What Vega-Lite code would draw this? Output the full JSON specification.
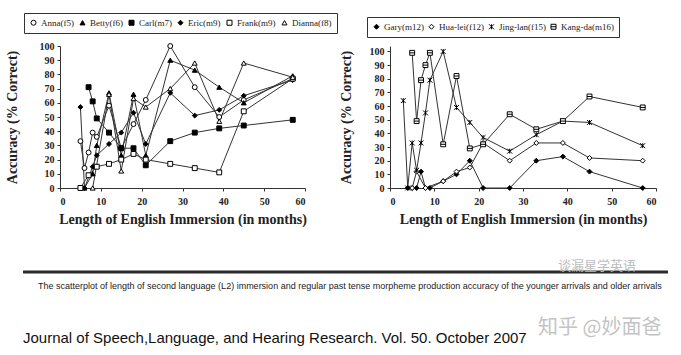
{
  "$schema": "https://vega.github.io/schema/vega-lite/v6.json",
  "background": "white",
  "padding": {"left": 4, "top": 12, "right": 0, "bottom": 0},
  "spacing": 0,
  "config": {
    "view": {"stroke": null},
    "font": "Liberation Serif",
    "axis": {
      "labelFont": "Liberation Serif", "labelFontWeight": "bold", "labelFontSize": 10, "labelColor": "#222",
      "titleFont": "Liberation Serif", "titleFontWeight": "bold", "titleFontSize": 14, "titleColor": "#222",
      "domainColor": "#333", "tickColor": "#333", "grid": false, "tickSize": 3, "labelPadding": 3
    },
    "legend": {
      "labelFont": "Liberation Serif", "labelFontSize": 9, "labelColor": "#222",
      "strokeColor": "#333", "padding": 5, "symbolStrokeWidth": 1,
      "symbolSize": 25, "labelOffset": 3, "fillColor": "white"
    }
  },
  "datasets": {
    "left": [
      {"student": "Anna(f5)", "months": 5, "accuracy": 33},
      {"student": "Anna(f5)", "months": 6, "accuracy": 14},
      {"student": "Anna(f5)", "months": 7, "accuracy": 25},
      {"student": "Anna(f5)", "months": 8, "accuracy": 39},
      {"student": "Anna(f5)", "months": 9, "accuracy": 36},
      {"student": "Anna(f5)", "months": 12, "accuracy": 58},
      {"student": "Anna(f5)", "months": 15, "accuracy": 28},
      {"student": "Anna(f5)", "months": 18, "accuracy": 45},
      {"student": "Anna(f5)", "months": 21, "accuracy": 62},
      {"student": "Anna(f5)", "months": 27, "accuracy": 100},
      {"student": "Anna(f5)", "months": 33, "accuracy": 71},
      {"student": "Anna(f5)", "months": 39, "accuracy": 50},
      {"student": "Anna(f5)", "months": 45, "accuracy": 62},
      {"student": "Anna(f5)", "months": 57, "accuracy": 77},
      {"student": "Betty(f6)", "months": 6, "accuracy": 0},
      {"student": "Betty(f6)", "months": 8, "accuracy": 10},
      {"student": "Betty(f6)", "months": 9, "accuracy": 30},
      {"student": "Betty(f6)", "months": 12, "accuracy": 67},
      {"student": "Betty(f6)", "months": 15, "accuracy": 23},
      {"student": "Betty(f6)", "months": 18, "accuracy": 66},
      {"student": "Betty(f6)", "months": 21, "accuracy": 23},
      {"student": "Betty(f6)", "months": 27, "accuracy": 90},
      {"student": "Betty(f6)", "months": 33, "accuracy": 83},
      {"student": "Betty(f6)", "months": 39, "accuracy": 71},
      {"student": "Betty(f6)", "months": 45, "accuracy": 60},
      {"student": "Betty(f6)", "months": 57, "accuracy": 79},
      {"student": "Carl(m7)", "months": 7, "accuracy": 71},
      {"student": "Carl(m7)", "months": 8, "accuracy": 61},
      {"student": "Carl(m7)", "months": 9, "accuracy": 49},
      {"student": "Carl(m7)", "months": 12, "accuracy": 39},
      {"student": "Carl(m7)", "months": 15, "accuracy": 28},
      {"student": "Carl(m7)", "months": 18, "accuracy": 28},
      {"student": "Carl(m7)", "months": 21, "accuracy": 16},
      {"student": "Carl(m7)", "months": 27, "accuracy": 33},
      {"student": "Carl(m7)", "months": 33, "accuracy": 39},
      {"student": "Carl(m7)", "months": 39, "accuracy": 42},
      {"student": "Carl(m7)", "months": 45, "accuracy": 44},
      {"student": "Carl(m7)", "months": 57, "accuracy": 48},
      {"student": "Eric(m9)", "months": 5, "accuracy": 57},
      {"student": "Eric(m9)", "months": 6, "accuracy": 0},
      {"student": "Eric(m9)", "months": 8, "accuracy": 15},
      {"student": "Eric(m9)", "months": 9, "accuracy": 23},
      {"student": "Eric(m9)", "months": 12, "accuracy": 31},
      {"student": "Eric(m9)", "months": 15, "accuracy": 39},
      {"student": "Eric(m9)", "months": 18, "accuracy": 53},
      {"student": "Eric(m9)", "months": 21, "accuracy": 31},
      {"student": "Eric(m9)", "months": 27, "accuracy": 67},
      {"student": "Eric(m9)", "months": 33, "accuracy": 51},
      {"student": "Eric(m9)", "months": 39, "accuracy": 55},
      {"student": "Eric(m9)", "months": 45, "accuracy": 65},
      {"student": "Eric(m9)", "months": 57, "accuracy": 76},
      {"student": "Frank(m9)", "months": 5, "accuracy": 0},
      {"student": "Frank(m9)", "months": 7, "accuracy": 9},
      {"student": "Frank(m9)", "months": 9, "accuracy": 15},
      {"student": "Frank(m9)", "months": 12, "accuracy": 17},
      {"student": "Frank(m9)", "months": 15, "accuracy": 20},
      {"student": "Frank(m9)", "months": 18, "accuracy": 24},
      {"student": "Frank(m9)", "months": 21, "accuracy": 20},
      {"student": "Frank(m9)", "months": 27, "accuracy": 17},
      {"student": "Frank(m9)", "months": 33, "accuracy": 14},
      {"student": "Frank(m9)", "months": 39, "accuracy": 11},
      {"student": "Frank(m9)", "months": 45, "accuracy": 54},
      {"student": "Frank(m9)", "months": 57, "accuracy": 77},
      {"student": "Dianna(f8)", "months": 8, "accuracy": 0},
      {"student": "Dianna(f8)", "months": 12, "accuracy": 66},
      {"student": "Dianna(f8)", "months": 15, "accuracy": 12},
      {"student": "Dianna(f8)", "months": 18, "accuracy": 63},
      {"student": "Dianna(f8)", "months": 21, "accuracy": 57},
      {"student": "Dianna(f8)", "months": 27, "accuracy": 70},
      {"student": "Dianna(f8)", "months": 33, "accuracy": 88},
      {"student": "Dianna(f8)", "months": 39, "accuracy": 47},
      {"student": "Dianna(f8)", "months": 45, "accuracy": 88},
      {"student": "Dianna(f8)", "months": 57, "accuracy": 78}
    ],
    "right": [
      {"student": "Gary(m12)", "months": 4, "accuracy": 0},
      {"student": "Gary(m12)", "months": 5, "accuracy": 0},
      {"student": "Gary(m12)", "months": 6, "accuracy": 0},
      {"student": "Gary(m12)", "months": 7, "accuracy": 12},
      {"student": "Gary(m12)", "months": 8, "accuracy": 0},
      {"student": "Gary(m12)", "months": 9, "accuracy": 0},
      {"student": "Gary(m12)", "months": 12, "accuracy": 5},
      {"student": "Gary(m12)", "months": 15, "accuracy": 10},
      {"student": "Gary(m12)", "months": 18, "accuracy": 20},
      {"student": "Gary(m12)", "months": 21, "accuracy": 0},
      {"student": "Gary(m12)", "months": 27, "accuracy": 0},
      {"student": "Gary(m12)", "months": 33, "accuracy": 20},
      {"student": "Gary(m12)", "months": 39, "accuracy": 23},
      {"student": "Gary(m12)", "months": 45, "accuracy": 12},
      {"student": "Gary(m12)", "months": 57, "accuracy": 0},
      {"student": "Hua-lei(f12)", "months": 5, "accuracy": 0},
      {"student": "Hua-lei(f12)", "months": 6, "accuracy": 12},
      {"student": "Hua-lei(f12)", "months": 8, "accuracy": 0},
      {"student": "Hua-lei(f12)", "months": 12, "accuracy": 5},
      {"student": "Hua-lei(f12)", "months": 15, "accuracy": 12},
      {"student": "Hua-lei(f12)", "months": 18, "accuracy": 15},
      {"student": "Hua-lei(f12)", "months": 21, "accuracy": 33},
      {"student": "Hua-lei(f12)", "months": 27, "accuracy": 20},
      {"student": "Hua-lei(f12)", "months": 33, "accuracy": 33},
      {"student": "Hua-lei(f12)", "months": 39, "accuracy": 33},
      {"student": "Hua-lei(f12)", "months": 45, "accuracy": 22},
      {"student": "Hua-lei(f12)", "months": 57, "accuracy": 20},
      {"student": "Jing-lan(f15)", "months": 3, "accuracy": 64},
      {"student": "Jing-lan(f15)", "months": 4, "accuracy": 0},
      {"student": "Jing-lan(f15)", "months": 5, "accuracy": 33},
      {"student": "Jing-lan(f15)", "months": 6, "accuracy": 13},
      {"student": "Jing-lan(f15)", "months": 7, "accuracy": 33},
      {"student": "Jing-lan(f15)", "months": 8, "accuracy": 55},
      {"student": "Jing-lan(f15)", "months": 9, "accuracy": 79},
      {"student": "Jing-lan(f15)", "months": 12, "accuracy": 100},
      {"student": "Jing-lan(f15)", "months": 15, "accuracy": 59},
      {"student": "Jing-lan(f15)", "months": 18, "accuracy": 48},
      {"student": "Jing-lan(f15)", "months": 21, "accuracy": 37},
      {"student": "Jing-lan(f15)", "months": 27, "accuracy": 27},
      {"student": "Jing-lan(f15)", "months": 33, "accuracy": 39},
      {"student": "Jing-lan(f15)", "months": 39, "accuracy": 49},
      {"student": "Jing-lan(f15)", "months": 45, "accuracy": 48},
      {"student": "Jing-lan(f15)", "months": 57, "accuracy": 31},
      {"student": "Kang-da(m16)", "months": 5, "accuracy": 99},
      {"student": "Kang-da(m16)", "months": 6, "accuracy": 49},
      {"student": "Kang-da(m16)", "months": 7, "accuracy": 79},
      {"student": "Kang-da(m16)", "months": 8, "accuracy": 90},
      {"student": "Kang-da(m16)", "months": 9, "accuracy": 99},
      {"student": "Kang-da(m16)", "months": 12, "accuracy": 32},
      {"student": "Kang-da(m16)", "months": 15, "accuracy": 82},
      {"student": "Kang-da(m16)", "months": 18, "accuracy": 29},
      {"student": "Kang-da(m16)", "months": 21, "accuracy": 32},
      {"student": "Kang-da(m16)", "months": 27, "accuracy": 54},
      {"student": "Kang-da(m16)", "months": 33, "accuracy": 43},
      {"student": "Kang-da(m16)", "months": 39, "accuracy": 49},
      {"student": "Kang-da(m16)", "months": 45, "accuracy": 67},
      {"student": "Kang-da(m16)", "months": 57, "accuracy": 59}
    ]
  },
  "vconcat": [
    {
      "spacing": 0,
      "resolve": {
        "scale": {"x": "independent", "y": "independent", "shape": "independent", "fill": "independent", "stroke": "independent"},
        "legend": {"shape": "independent", "fill": "independent", "stroke": "independent"}
      },
      "hconcat": [
        {
          "width": 245,
          "height": 142,
          "data": {"name": "left"},
          "encoding": {
            "x": {"field": "months", "type": "quantitative", "scale": {"domain": [0, 60], "nice": false},
                  "axis": {"values": [0, 10, 20, 30, 40, 50, 60], "title": "Length of English Immersion (in months)", "titlePadding": 6, "labelPadding": 5}},
            "y": {"field": "accuracy", "type": "quantitative", "scale": {"domain": [0, 100], "nice": false},
                  "axis": {"values": [0, 10, 20, 30, 40, 50, 60, 70, 80, 90, 100], "title": "Accuracy (% Correct)", "titlePadding": 20}}
          },
          "layer": [
            {"mark": {"type": "line", "color": "#333", "strokeWidth": 1}, "encoding": {"detail": {"field": "student", "type": "nominal"}}},
            {
              "mark": {"type": "point", "filled": true, "strokeWidth": 1, "opacity": 1, "size": 24},
              "encoding": {
                "shape": {"field": "student", "type": "nominal",
                  "scale": {"domain": ["Anna(f5)", "Betty(f6)", "Carl(m7)", "Eric(m9)", "Frank(m9)", "Dianna(f8)"],
                            "range": ["circle", "triangle-up", "square", "diamond", "square", "triangle-up"]},
                  "legend": {"orient": "none", "legendX": -36, "legendY": -33, "direction": "horizontal", "columns": 6, "title": null, "columnPadding": 4}},
                "fill": {"field": "student", "type": "nominal",
                  "scale": {"domain": ["Anna(f5)", "Betty(f6)", "Carl(m7)", "Eric(m9)", "Frank(m9)", "Dianna(f8)"],
                            "range": ["white", "black", "black", "black", "white", "white"]},
                  "legend": {"orient": "none", "legendX": -36, "legendY": -33, "direction": "horizontal", "columns": 6, "title": null, "columnPadding": 4}},
                "stroke": {"field": "student", "type": "nominal",
                  "scale": {"domain": ["Anna(f5)", "Betty(f6)", "Carl(m7)", "Eric(m9)", "Frank(m9)", "Dianna(f8)"],
                            "range": ["black", "black", "black", "black", "black", "black"]},
                  "legend": {"orient": "none", "legendX": -36, "legendY": -33, "direction": "horizontal", "columns": 6, "title": null, "columnPadding": 4}}
              }
            }
          ]
        },
        {
          "width": 266,
          "height": 142,
          "data": {"name": "right"},
          "encoding": {
            "x": {"field": "months", "type": "quantitative", "scale": {"domain": [0, 60], "nice": false},
                  "axis": {"values": [0, 10, 20, 30, 40, 50, 60], "title": "Length of English Immersion (in months)", "titlePadding": 6, "labelPadding": 5}},
            "y": {"field": "accuracy", "type": "quantitative", "scale": {"domain": [0, 104], "nice": false},
                  "axis": {"values": [0, 10, 20, 30, 40, 50, 60, 70, 80, 90, 100], "title": "Accuracy (% Correct)", "titlePadding": 16}}
          },
          "layer": [
            {"mark": {"type": "line", "color": "#333", "strokeWidth": 1}, "encoding": {"detail": {"field": "student", "type": "nominal"}}},
            {
              "mark": {"type": "point", "filled": true, "strokeWidth": 1, "opacity": 1, "size": 24},
              "encoding": {
                "shape": {"field": "student", "type": "nominal",
                  "scale": {"domain": ["Gary(m12)", "Hua-lei(f12)", "Jing-lan(f15)", "Kang-da(m16)"],
                            "range": ["diamond", "diamond", "M-1,-1L1,1M-1,1L1,-1M0,-1L0,1", "M-1,-1H1V1H-1ZM-1,0H1"]},
                  "legend": {"orient": "none", "legendX": -23, "legendY": -29, "direction": "horizontal", "columns": 4, "title": null, "columnPadding": 3}},
                "fill": {"field": "student", "type": "nominal",
                  "scale": {"domain": ["Gary(m12)", "Hua-lei(f12)", "Jing-lan(f15)", "Kang-da(m16)"],
                            "range": ["black", "white", "white", "white"]},
                  "legend": {"orient": "none", "legendX": -23, "legendY": -29, "direction": "horizontal", "columns": 4, "title": null, "columnPadding": 3}},
                "stroke": {"field": "student", "type": "nominal",
                  "scale": {"domain": ["Gary(m12)", "Hua-lei(f12)", "Jing-lan(f15)", "Kang-da(m16)"],
                            "range": ["black", "black", "black", "black"]},
                  "legend": {"orient": "none", "legendX": -23, "legendY": -29, "direction": "horizontal", "columns": 4, "title": null, "columnPadding": 3}}
              }
            }
          ]
        }
      ]
    },
    {
      "width": 610,
      "height": 122,
      "layer": [
        {
          "data": {"values": [{"kind": "rule"}]},
          "mark": {"type": "rule", "strokeWidth": 3, "color": "#2b2b2b"},
          "encoding": {
            "x": {"datum": -37, "type": "quantitative", "scale": {"domain": [0, 610], "nice": false, "zero": false}, "axis": null},
            "x2": {"datum": 608},
            "y": {"datum": 46, "type": "quantitative", "scale": {"domain": [0, 122], "reverse": true, "nice": false}, "axis": null}
          }
        },
        {
          "data": {"values": [{"label": "The scatterplot of length of second language (L2) immersion and regular past tense morpheme production accuracy of the younger arrivals  and older arrivals"}]},
          "mark": {"type": "text", "font": "Liberation Sans", "fontSize": 9, "align": "left", "baseline": "middle", "color": "#222"},
          "encoding": {
            "text": {"field": "label"},
            "x": {"datum": -22, "type": "quantitative", "scale": {"domain": [0, 610], "nice": false, "zero": false}, "axis": null},
            "y": {"datum": 60, "type": "quantitative", "scale": {"domain": [0, 122], "reverse": true, "nice": false}, "axis": null}
          }
        },
        {
          "data": {"values": [{"label": "Journal of Speech,Language, and Hearing Research. Vol. 50. October 2007"}]},
          "mark": {"type": "text", "font": "Liberation Sans", "fontSize": 15, "align": "left", "baseline": "middle", "color": "#111"},
          "encoding": {
            "text": {"field": "label"},
            "x": {"datum": -37, "type": "quantitative", "scale": {"domain": [0, 610], "nice": false, "zero": false}, "axis": null},
            "y": {"datum": 112, "type": "quantitative", "scale": {"domain": [0, 122], "reverse": true, "nice": false}, "axis": null}
          }
        },
        {
          "data": {"values": [{"label": "知乎 @妙面爸"}]},
          "mark": {"type": "text", "font": "Noto Sans CJK SC", "fontSize": 20, "align": "left", "baseline": "middle", "color": "#c4c4c4"},
          "encoding": {
            "text": {"field": "label"},
            "x": {"datum": 478, "type": "quantitative", "scale": {"domain": [0, 610], "nice": false, "zero": false}, "axis": null},
            "y": {"datum": 102, "type": "quantitative", "scale": {"domain": [0, 122], "reverse": true, "nice": false}, "axis": null}
          }
        },
        {
          "data": {"values": [{"label": "谈漏星学英语"}]},
          "mark": {"type": "text", "font": "Noto Sans CJK SC", "fontSize": 13, "align": "left", "baseline": "middle", "color": "#bdbdbd"},
          "encoding": {
            "text": {"field": "label"},
            "x": {"datum": 498, "type": "quantitative", "scale": {"domain": [0, 610], "nice": false, "zero": false}, "axis": null},
            "y": {"datum": 40, "type": "quantitative", "scale": {"domain": [0, 122], "reverse": true, "nice": false}, "axis": null}
          }
        }
      ]
    }
  ]
}
